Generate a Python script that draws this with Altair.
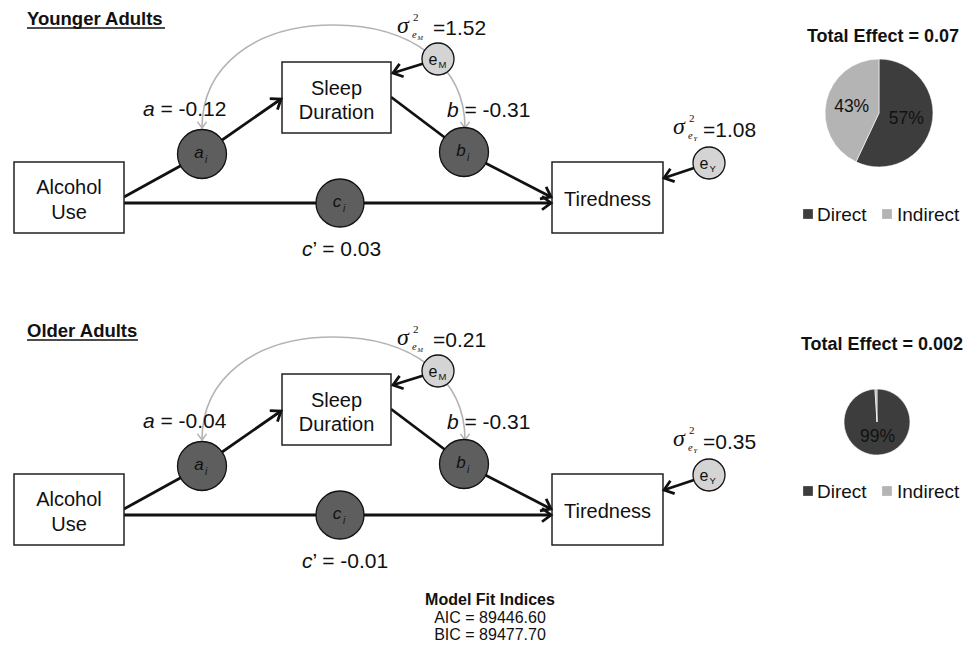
import altair as alt
import pandas as pd

# ---------------------------------------------------------------- values
panel_titles = ["Younger Adults", "Older Adults"]
a_values = ["-0.12", "-0.04"]
b_values = ["-0.31", "-0.31"]
c_values = ["0.03", "-0.01"]
var_eM = ["1.52", "0.21"]
var_eY = ["1.08", "0.35"]
total_effects = ["0.07", "0.002"]
slice_names = ["Direct", "Indirect"]
slice_colors = ["#3d3d3d", "#b4b4b4"]
direct_share = [57, 99]
indirect_share = [43, 1]
fit_title = "Model Fit Indices"
fit_lines = ["AIC = 89446.60", "BIC = 89477.70"]

# ---------------------------------------------------------------- layout (px, top panel)
W, H = 955, 636
X0, Y0 = 8, 8
panel_dy = [0, 312]
title_x, title_base, title_w = 27, 25, [138, 111]

box_x1 = [14, 282, 552]
box_x2 = [124, 391, 663]
box_y1 = [162, 62, 162]
box_y2 = [233, 133, 233]
box_lines = [["Alcohol", "Use"], ["Sleep", "Duration"], ["Tiredness"]]
box_line_base = [[194, 219], [95, 119], [206]]

node_letter = ["a", "b", "c", "e", "e"]
node_sub = ["i", "i", "i", "M", "Y"]
node_x = [202, 464, 340, 438, 709]
node_y = [154, 152, 203, 59, 163]
node_r = [24.5, 24.5, 24, 16, 16]
node_fill = ["#5e5e5e", "#5e5e5e", "#5e5e5e", "#d4d4d4", "#d4d4d4"]

edge_x1 = [124, 202, 391, 464, 124, 438, 709]
edge_y1 = [197, 154, 97, 152, 203, 59, 163]
edge_x2 = [202, 281, 464, 551, 551, 393, 664]
edge_y2 = [154, 99, 152, 197, 203, 73, 178]
edge_head = [0, 1, 0, 1, 1, 1, 1]

arc_cx, arc_cy, arc_hw, arc_h, arc_k = 333.5, 128, 131.5, 103, 0.6

coef_letter = ["a", "b", "c"]
coef_x = [143, 447, 302]
coef_base = [116, 117, 256]
coef_rest_x = [160.5, 464.5, 312.5]

sigma_x = [397, 673]
sigma_base = [33, 134]
eq_x = [433, 703]
eq_base = [35, 137]

pie_cx = [879, 877]
pie_cy = [113, 422]
pie_r = [54, 33]
pie_label_r = [28, 15]
pie_title_x = [883, 882]
pie_title_base = [42, 350]
legend_base = [221, 498]
legend_sq_x = [808, 887]
legend_tx = [817, 897]

fit_x = 490
fit_base = [605, 623, 640]

SANS = "Liberation Sans, Arial, Helvetica, sans-serif"
SERIF = "Liberation Serif, Times New Roman, serif"
INK = "#111111"

# ---------------------------------------------------------------- scales
xs = alt.Scale(domain=[X0, X0 + W], nice=False, zero=False)
ys = alt.Scale(domain=[Y0, Y0 + H], nice=False, zero=False, reverse=True)


def X(f):
    return alt.X(f, type="quantitative", scale=xs, axis=None)


def Y(f):
    return alt.Y(f, type="quantitative", scale=ys, axis=None)


# ---------------------------------------------------------------- tables
boxes, nodes, edges, heads, arcs, arc_tips, underl = [], [], [], [], [], [], []
texts = {}


def put(group, t, x, y, fs, col=INK):
    texts.setdefault(group, []).append(dict(t=t, x=x, y=y, fs=fs, col=col))


for p, dy in enumerate(panel_dy):
    put("sans_bl", panel_titles[p], title_x, title_base + dy, 18.5)
    underl.append(dict(x1=title_x, x2=title_x + title_w[p], y=title_base + dy + 3))
    for i in range(3):
        boxes.append(dict(x1=box_x1[i], x2=box_x2[i], y1=box_y1[i] + dy, y2=box_y2[i] + dy))
        cx = (box_x1[i] + box_x2[i]) / 2
        for line, base in zip(box_lines[i], box_line_base[i]):
            put("sans_c", line, cx, base + dy, 20)
    for i in range(len(edge_x1)):
        e = dict(x1=edge_x1[i], y1=edge_y1[i] + dy, x2=edge_x2[i], y2=edge_y2[i] + dy)
        edges.append(e)
        if edge_head[i]:
            heads.append(e)
    arcs.append(dict(x=arc_cx, y=arc_cy + dy, sz=(2 * arc_hw) ** 2))
    for sx in (-1, 1):
        tx = arc_cx + sx * arc_hw
        arc_tips.append(dict(x1=tx, y1=arc_cy + dy - 10, x2=tx, y2=arc_cy + dy))
    for i in range(len(node_x)):
        nodes.append(dict(x=node_x[i], y=node_y[i] + dy, sz=(2 * node_r[i]) ** 2, fill=node_fill[i]))
        if node_letter[i] == "e":
            put("sans_c", "e", node_x[i] - 5, node_y[i] + dy + 6, 16)
            put("sans_l", node_sub[i], node_x[i] + 0.5, node_y[i] + dy + 9, 9.5)
        else:
            put("sans_ic", node_letter[i], node_x[i] - 3, node_y[i] + dy + 4, 17)
            put("sans_il", node_sub[i], node_x[i] + 3, node_y[i] + dy + 9, 10)
    vals = [a_values[p], b_values[p], c_values[p]]
    for i in range(3):
        put("sans_il", coef_letter[i], coef_x[i], coef_base[i] + dy, 21)
        rest = ("’ = " if coef_letter[i] == "c" else "= ") + vals[i]
        put("sans_l", rest, coef_rest_x[i], coef_base[i] + dy, 21)
    for j, (name, val) in enumerate(zip(["M", "Y"], [var_eM[p], var_eY[p]])):
        sx, sb = sigma_x[j], sigma_base[j] + dy
        put("serif_il", "σ", sx, sb, 24)
        put("serif_l", "2", sx + 16, sb - 12, 11)
        put("serif_il", "e", sx + 15, sb + 5, 10.5)
        put("serif_il", name, sx + 20.5, sb + 7, 6.5)
        put("sans_l", "=" + val, eq_x[j], eq_base[j] + dy, 21)

# pies
pie_rows, legend_sq = [], []
for p in range(2):
    shares = [direct_share[p], indirect_share[p]]
    for k in range(2):
        pie_rows.append(dict(pie=p, order=k, share=shares[k], cx=pie_cx[p], cy=pie_cy[p],
                             r=pie_r[p], lr=pie_label_r[p], color=slice_colors[k],
                             label=f"{shares[k]}%" if shares[k] >= 5 else ""))
        legend_sq.append(dict(x=legend_sq_x[k], y=legend_base[p] - 7, color=slice_colors[k]))
        put("sans_l", slice_names[k], legend_tx[k], legend_base[p], 19)
    put("sans_bc", "Total Effect = " + total_effects[p], pie_title_x[p], pie_title_base[p], 18)

put("sans_bc", fit_title, fit_x, fit_base[0], 16)
for line, base in zip(fit_lines, fit_base[1:]):
    put("sans_c", line, fit_x, base, 16)

# ---------------------------------------------------------------- marks
layers = []
layers.append(alt.Chart(pd.DataFrame(underl)).mark_rule(color=INK, strokeWidth=1.6).encode(
    x=X("x1"), x2="x2:Q", y=Y("y")))
layers.append(alt.Chart(pd.DataFrame(edges)).mark_rule(color=INK, strokeWidth=2.8, strokeCap="butt").encode(
    x=X("x1"), y=Y("y1"), x2="x2:Q", y2="y2:Q"))

hr = arc_h / arc_hw
ARC = (f"M -1 0 C -1 {-hr * arc_k:.4f} {-arc_k} {-hr:.4f} 0 {-hr:.4f} "
       f"C {arc_k} {-hr:.4f} 1 {-hr * arc_k:.4f} 1 0")
layers.append(alt.Chart(pd.DataFrame(arcs)).mark_point(
    shape=ARC, filled=False, color="#b3b3b3", strokeWidth=1.6, opacity=1).encode(
    x=X("x"), y=Y("y"), size=alt.Size("sz:Q", scale=None)))

ANG = "(atan2(datum.y2 - datum.y1, datum.x2 - datum.x1) * 180 / PI + 360) % 360"
CHEV = "M -1 -0.75 L 0 0 L -1 0.75"
layers.append(alt.Chart(pd.DataFrame(arc_tips)).transform_calculate(ang=ANG).mark_point(
    shape=CHEV, filled=False, color="#b3b3b3", strokeWidth=1.6, opacity=1, size=150).encode(
    x=X("x2"), y=Y("y2"), angle=alt.Angle("ang:Q", scale=None)))

layers.append(alt.Chart(pd.DataFrame(boxes)).mark_rect(fill="white", stroke="#222222", strokeWidth=1.5).encode(
    x=X("x1"), x2="x2:Q", y=Y("y1"), y2="y2:Q"))

layers.append(alt.Chart(pd.DataFrame(nodes)).mark_circle(stroke=INK, strokeWidth=1.3, opacity=1).encode(
    x=X("x"), y=Y("y"), size=alt.Size("sz:Q", scale=None), color=alt.Color("fill:N", scale=None)))

layers.append(alt.Chart(pd.DataFrame(heads)).transform_calculate(ang=ANG).mark_point(
    shape=CHEV, filled=False, color=INK, strokeWidth=2.8, opacity=1, size=324, strokeJoin="miter").encode(
    x=X("x2"), y=Y("y2"), angle=alt.Angle("ang:Q", scale=None)))

pie_base = alt.Chart(pd.DataFrame(pie_rows)).transform_stack(
    stack="share", groupby=["pie"], as_=["s0", "s1"], offset="normalize",
    sort=[alt.SortField("order", order="ascending")]).transform_calculate(
    t0="datum.s0 * 2 * PI", t1="datum.s1 * 2 * PI", mid="(datum.s0 + datum.s1) * PI",
    lx="datum.cx + datum.lr * sin(datum.mid)", ly="datum.cy - datum.lr * cos(datum.mid)")
layers.append(pie_base.mark_arc(stroke="white", strokeWidth=0.6).encode(
    x=X("cx"), y=Y("cy"),
    theta=alt.Theta("t0:Q", scale=None, stack=None), theta2="t1:Q",
    radius=alt.Radius("r:Q", scale=None), color=alt.Color("color:N", scale=None)))
layers.append(pie_base.transform_filter("datum.label != ''").mark_text(
    font=SANS, fontSize=17.5, align="center", baseline="middle", color=INK).encode(
    x=X("lx"), y=Y("ly"), text="label:N"))

layers.append(alt.Chart(pd.DataFrame(legend_sq)).mark_square(size=95, opacity=1).encode(
    x=X("x"), y=Y("y"), color=alt.Color("color:N", scale=None)))

STYLE = {
    "sans_c": dict(font=SANS, align="center"),
    "sans_l": dict(font=SANS, align="left"),
    "sans_il": dict(font=SANS, align="left", fontStyle="italic"),
    "sans_ic": dict(font=SANS, align="center", fontStyle="italic"),
    "sans_bl": dict(font=SANS, align="left", fontWeight="bold"),
    "sans_bc": dict(font=SANS, align="center", fontWeight="bold"),
    "serif_il": dict(font=SERIF, align="left", fontStyle="italic"),
    "serif_l": dict(font=SERIF, align="left"),
}
for g, rows in texts.items():
    layers.append(alt.Chart(pd.DataFrame(rows)).mark_text(baseline="alphabetic", **STYLE[g]).encode(
        x=X("x"), y=Y("y"), text="t:N",
        size=alt.Size("fs:Q", scale=None), color=alt.Color("col:N", scale=None)))

chart = alt.layer(*layers).properties(
    width=W, height=H, padding=0, background="white",
    autosize=alt.AutoSizeParams(type="none")).configure_view(stroke=None)

chart.save("out.html", embed_options={"renderer": "svg", "actions": False})
